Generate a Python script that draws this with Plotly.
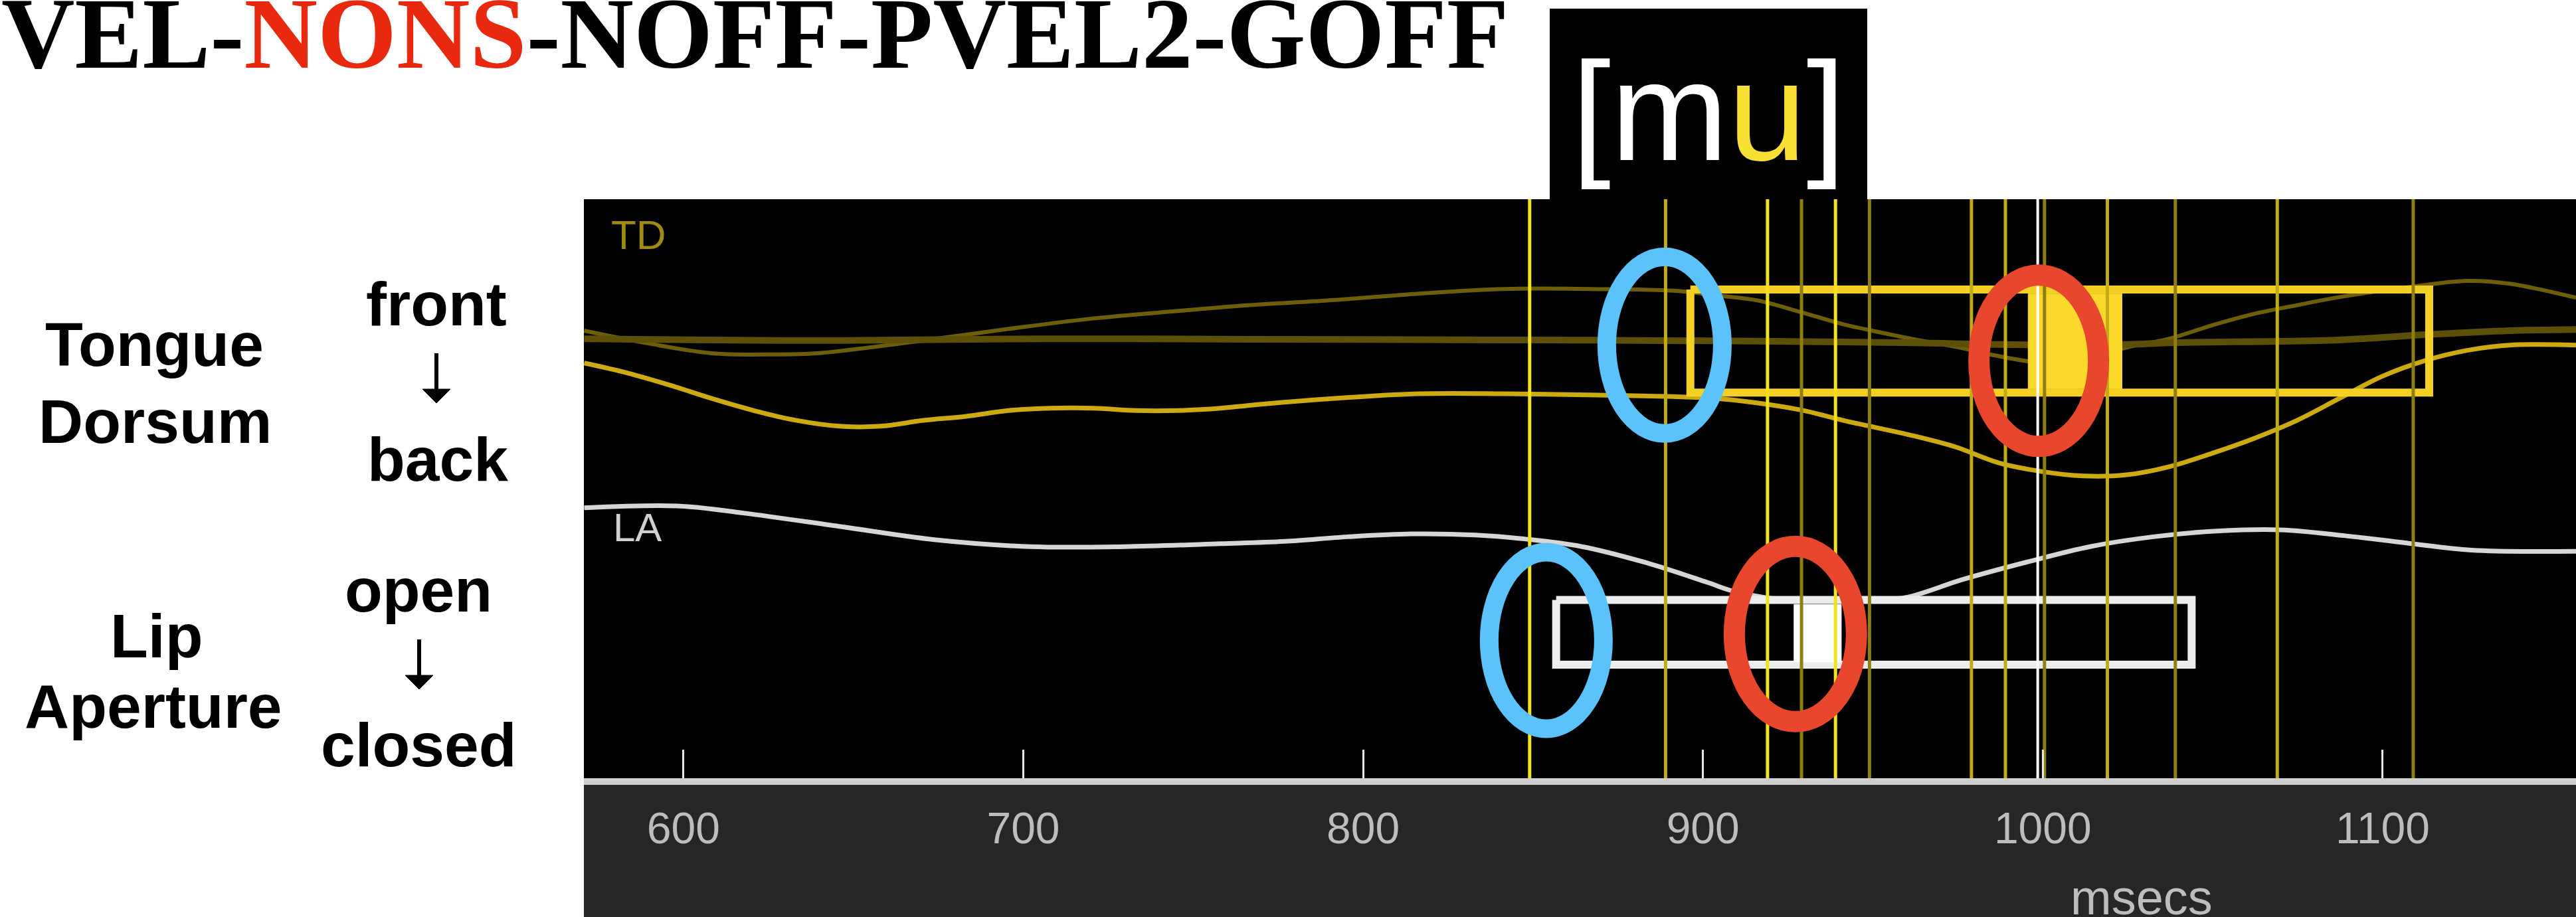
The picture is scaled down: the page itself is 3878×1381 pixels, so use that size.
import plotly.graph_objects as go

# ---------------- data (time in msecs, trajectory value in track units) ----------------
td1_ms = [570.8, 589.6, 608.2, 627.0, 639.5, 652.1, 670.6, 695.7, 720.5, 745.6, 766.5, 791.6,
          816.4, 841.5, 866.3, 891.4, 903.7, 916.2, 928.8, 941.3, 953.8, 962.0, 974.4, 986.9,
          999.4, 1011.9, 1024.7, 1037.2, 1049.7, 1062.2, 1074.8, 1087.3, 1106.0, 1124.9, 1137.4, 1156.9]
td1_val = [77.3, 75.1, 73.4, 73.2, 73.4, 74.2, 75.6, 77.6, 79.4, 80.7, 81.7, 82.6,
           83.7, 84.5, 84.5, 84.2, 83.4, 82.5, 80.5, 78.4, 76.8, 75.8, 74.5, 72.9,
           71.8, 72.3, 74.4, 75.9, 78.2, 80.2, 81.7, 83.1, 84.7, 85.9, 85.4, 83.0]

td2_ms = [570.8, 645.8, 707.8, 766.5, 840.9, 915.3, 962.2, 986.9, 1024.7, 1037.2, 1087.3, 1112.3, 1137.4, 1156.9]
td2_val = [75.9, 75.6, 75.9, 75.8, 75.7, 75.5, 75.2, 74.9, 74.9, 75.2, 75.7, 76.6, 77.3, 77.5]

td3_ms = [570.8, 583.4, 595.9, 608.2, 620.7, 633.3, 645.8, 658.1, 670.6, 683.2, 695.7, 708.2,
          720.5, 733.1, 745.6, 758.1, 766.5, 791.6, 816.4, 841.5, 866.3, 891.4, 903.7, 916.2,
          928.8, 941.3, 962.2, 974.4, 986.9, 999.4, 1011.9, 1024.7, 1037.2, 1049.7, 1062.2,
          1074.8, 1087.3, 1099.8, 1112.3, 1124.9, 1137.4, 1156.9]
td3_val = [71.7, 70.0, 67.9, 65.6, 63.5, 61.8, 60.8, 60.8, 61.8, 62.5, 63.5, 63.9,
           63.9, 63.5, 63.5, 63.9, 64.4, 65.6, 66.4, 66.4, 66.2, 65.9, 65.6, 64.8,
           63.6, 61.8, 59.1, 57.2, 54.5, 53.0, 52.2, 52.4, 53.8, 56.1, 58.7,
           61.8, 65.6, 69.4, 72.1, 73.9, 74.8, 74.8]

la_ms = [570.8, 599.0, 617.6, 645.8, 673.8, 702.0, 729.9, 758.1, 776.9, 795.5, 814.3, 833.1,
         847.9, 864.4, 882.8, 901.4, 909.0, 927.0, 944.6, 959.5, 976.3, 995.1, 1013.9, 1032.5,
         1051.3, 1070.1, 1088.6, 1107.4, 1126.2, 1156.9]
la_val = [46.7, 47.0, 45.8, 43.5, 41.2, 40.0, 40.0, 40.5, 40.9, 41.7, 42.2, 42.0,
          41.3, 40.0, 37.3, 33.8, 32.3, 30.6, 30.6, 31.2, 34.3, 37.3, 40.0, 41.7,
          42.7, 42.9, 41.9, 40.6, 39.4, 39.2]

# gesture boxes: [onset, offset] and plateau [start, end] (msecs)
td_gesture = [896.3, 1113.7]
td_plateau = [995.7, 1023.3]
la_gesture = [856.8, 1043.8]
la_plateau = [926.8, 940.7]

# landmark lines (msecs)
marks_bright = [849, 919, 939]
marks_mid = [889, 979, 989, 1019, 1069]
marks_dim = [929, 949, 1000.5, 1039, 1109]
cursor_ms = [998.5]

# highlighted landmarks (msecs)
blue_marks_ms = [888.7, 853.9]
red_marks_ms = [998.8, 927.2]

tick_vals = [600, 700, 800, 900, 1000, 1100]
tick_text = ["600", "700", "800", "900", "1000", "1100"]

# ---------------- geometry ----------------
FIG_W, FIG_H = 3878, 1381
PLOT_L, PLOT_T, PLOT_B = 879, 300, 1172
X_RANGE = [570.7, 1156.9]
Y_RANGE = [0, 100]
PX_PER_MS = (FIG_W - PLOT_L) / (X_RANGE[1] - X_RANGE[0])
PX_PER_UNIT = (PLOT_B - PLOT_T) / (Y_RANGE[1] - Y_RANGE[0])

TD_TRACK = (84.4, 66.6)   # box top / bottom, track units
TD_FILL = (83.7, 67.3)
LA_TRACK = (30.8, 19.6)
LA_FILL = (30.0, 20.1)
TD_MID = 73.2
LA_MID = 24.4


def px(xpix):
    return (xpix - PLOT_L) / (FIG_W - PLOT_L)


def py(ypix):
    return (PLOT_B - ypix) / (PLOT_B - PLOT_T)


def rect_xy(x0, x1, top, bottom):
    return [x0, x1, x1, x0, x0], [top, top, bottom, bottom, top]


def vlines(times):
    xs, ys = [], []
    for t in times:
        xs += [t, t, None]
        ys += [Y_RANGE[0], Y_RANGE[1], None]
    return xs, ys


fig = go.Figure()

# trajectories
fig.add_trace(go.Scatter(x=td1_ms, y=td1_val, mode="lines",
                         line=dict(color="#6E5E0A", width=6, shape="spline")))
fig.add_trace(go.Scatter(x=td2_ms, y=td2_val, mode="lines",
                         line=dict(color="#5E4F08", width=10, shape="spline")))
fig.add_trace(go.Scatter(x=td3_ms, y=td3_val, mode="lines",
                         line=dict(color="#CDA912", width=7, shape="spline")))
fig.add_trace(go.Scatter(x=la_ms, y=la_val, mode="lines",
                         line=dict(color="#D6D6D6", width=7, shape="spline")))

# gesture boxes
bx, by = rect_xy(td_gesture[0], td_gesture[1], *TD_TRACK)
fig.add_trace(go.Scatter(x=bx, y=by, mode="lines", line=dict(color="#F4CF24", width=12)))
bx, by = rect_xy(td_plateau[0], td_plateau[1], *TD_FILL)
fig.add_trace(go.Scatter(x=bx, y=by, mode="lines", fill="toself", fillcolor="#FAD92A",
                         line=dict(color="#FAD92A", width=1)))
bx, by = rect_xy(la_gesture[0], la_gesture[1], *LA_TRACK)
fig.add_trace(go.Scatter(x=bx, y=by, mode="lines", fill="toself", fillcolor="black",
                         line=dict(color="#EDEDED", width=12)))
bx, by = rect_xy(la_plateau[0], la_plateau[1], *LA_FILL)
fig.add_trace(go.Scatter(x=bx, y=by, mode="lines", fill="toself", fillcolor="white",
                         line=dict(color="white", width=1)))

# landmark lines
for times, col in [(marks_dim, "#8F7E12"), (marks_mid, "#C2AC16"), (marks_bright, "#F3E11F")]:
    vx, vy = vlines(times)
    fig.add_trace(go.Scatter(x=vx, y=vy, mode="lines", line=dict(color=col, width=5)))
vx, vy = vlines(cursor_ms)
fig.add_trace(go.Scatter(x=vx, y=vy, mode="lines", line=dict(color="white", width=4)))

shapes = []
# ellipses around landmarks
for t, yc, rxp, ryp, col, w in [
    (blue_marks_ms[0], TD_MID + 1.6, 87, 133, "#5BC2FB", 28),
    (blue_marks_ms[1], LA_MID - 0.6, 86, 133, "#5BC2FB", 28),
    (red_marks_ms[0], TD_MID - 1.1, 90, 129, "#E8462D", 32),
    (red_marks_ms[1], LA_MID + 0.5, 92, 132, "#E8462D", 32),
]:
    rx, ry = rxp / PX_PER_MS, ryp / PX_PER_UNIT
    shapes.append(dict(type="circle", xref="x", yref="y", x0=t - rx, x1=t + rx,
                       y0=yc - ry, y1=yc + ry, line=dict(color=col, width=w), layer="above"))

# dark band under the time axis
shapes.append(dict(type="rect", xref="paper", yref="paper", x0=0, x1=1, y0=py(FIG_H), y1=0,
                   fillcolor="#262626", line=dict(width=0), layer="below"))
# black label box for [mu]
shapes.append(dict(type="rect", xref="paper", yref="paper", x0=px(2333), x1=px(2811),
                   y0=1, y1=py(13), fillcolor="black", line=dict(width=0), layer="below"))
# down arrows
for xa, ytop in [(657, 532), (631, 963)]:
    shapes.append(dict(type="line", xref="paper", yref="paper", x0=px(xa), x1=px(xa),
                       y0=py(ytop), y1=py(ytop + 60), line=dict(color="black", width=6)))
    shapes.append(dict(type="path", xref="paper", yref="paper",
                       path=f"M{px(xa - 21)},{py(ytop + 54)} L{px(xa + 21)},{py(ytop + 54)} "
                            f"L{px(xa)},{py(ytop + 75)} Z",
                       fillcolor="black", line=dict(color="black", width=1)))

SANS = "Liberation Sans"
ann = []


def label(text, xc, baseline, size, color="black", bold=True, family=SANS, k=0.3465, anchor="center"):
    ann.append(dict(text=f"<b>{text}</b>" if bold else text, xref="paper", yref="paper",
                    x=px(xc), y=py(baseline - k * size), xanchor=anchor, yanchor="middle",
                    showarrow=False, font=dict(family=family, size=size, color=color)))


label("VEL-<span style='color:#E8290F'>NONS</span>-NOFF-PVEL2-GOFF", 0, 102, 153,
      family="Liberation Serif", k=0.3375, anchor="left")
label("[m<span style='color:#F8DF33'>u</span>]", 2572, 241, 212, color="white", bold=False)
label("Tongue", 232, 551, 93)
label("Dorsum", 233, 667, 93)
label("Lip", 235, 990, 93)
label("Aperture", 231, 1096, 93)
label("front", 657, 490, 93)
label("back", 659, 724, 93)
label("open", 630, 921, 93)
label("closed", 630, 1154, 93)
label("TD", 918, 375, 62, color="#A08A10", bold=False, anchor="left")
label("LA", 921, 815, 60, color="#D0D0D0", bold=False, anchor="left")
label("msecs", 3224, 1377, 74, color="#BDBDBD", bold=False)

fig.update_layout(
    width=FIG_W, height=FIG_H,
    margin=dict(l=PLOT_L, r=0, t=PLOT_T, b=FIG_H - PLOT_B, autoexpand=False),
    paper_bgcolor="white", plot_bgcolor="black",
    showlegend=False,
    shapes=shapes, annotations=ann,
    xaxis=dict(range=X_RANGE, showgrid=False, zeroline=False, showline=True,
               linecolor="#CFCFCF", linewidth=10, ticks="inside", ticklen=43, tickwidth=3,
               tickcolor="#E6E6E6", tickvals=tick_vals, ticktext=tick_text,
               tickfont=dict(family=SANS, size=66, color="#BDBDBD"), ticklabelstandoff=9,
               fixedrange=True),
    yaxis=dict(range=Y_RANGE, visible=False, fixedrange=True),
)

fig.write_html("out.html", config={"displayModeBar": False, "staticPlot": True},
               post_script="document.body.style.margin='0px';document.body.style.overflow='hidden';")
